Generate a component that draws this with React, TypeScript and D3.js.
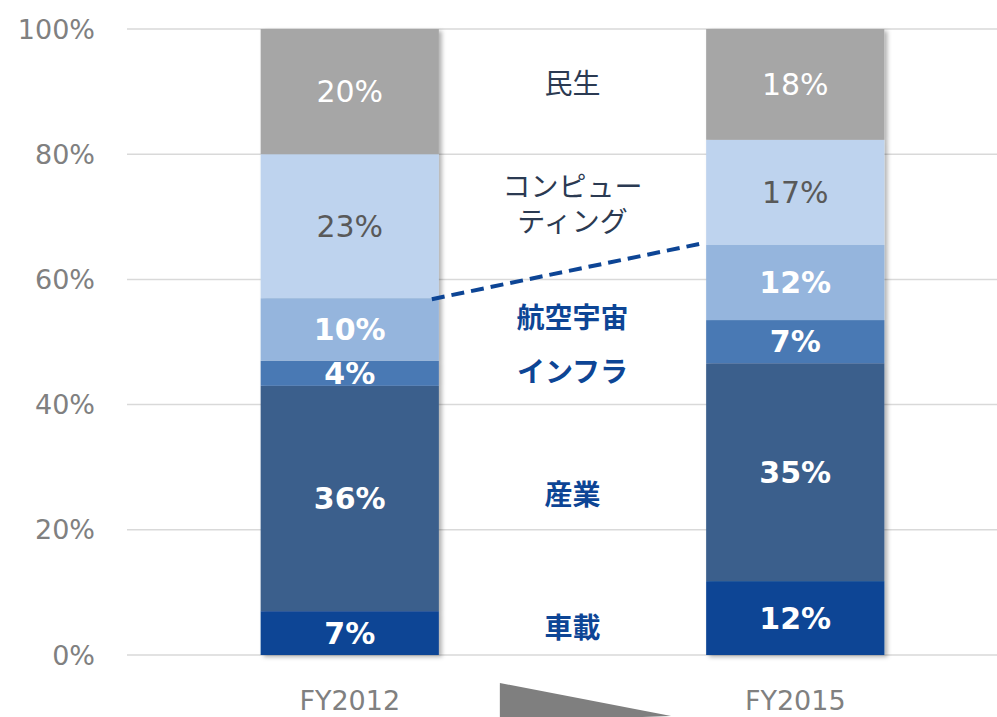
import React from 'react';
import * as d3 from 'd3';

const years = ['FY2012', 'FY2015'];
const segments = ['車載', '産業', 'インフラ', '航空宇宙', 'コンピューティング', '民生'];
const fy2012 = [7, 36, 4, 10, 23, 20];
const fy2015 = [11.8, 34.8, 6.9, 12.0, 16.8, 17.7];
const yTicks = [0, 20, 40, 60, 80, 100];

// middle annotation labels: text lines and their position in percent
const midLabels = [
    { lines: ['民生'], at: 91, bold: false },
    { lines: ['コンピュー', 'ティング'], at: 71.8, bold: false },
    { lines: ['航空宇宙'], at: 53.7, bold: true },
    { lines: ['インフラ'], at: 45, bold: true },
    { lines: ['産業'], at: 25.4, bold: true },
    { lines: ['車載'], at: 4.2, bold: true },
];

const colors = ['#0d4595', '#3b5e8c', '#4a79b4', '#95b5dd', '#bed3ee', '#a6a6a6'];
const labelColors = ['#fff', '#fff', '#fff', '#fff', '#595959', '#fff'];
const labelBold = [true, true, true, true, false, false];

const W = 997;
const H = 717;
const margin = { top: 29, left: 127, bottom: 62 };
const plotRight = 1018;

const App = () => {
    const x = d3.scaleBand().domain(years).range([margin.left, plotRight]).paddingInner(0.6).paddingOuter(0.3);
    const y = d3.scaleLinear().domain([0, 100]).range([H - margin.bottom, margin.top]);

    // stack per year across segments
    const stackYear = (vals: number[]) => {
        let acc = 0;
        return vals.map((v) => {
            const s = [acc, acc + v];
            acc += v;
            return s;
        });
    };
    const series = [stackYear(fy2012), stackYear(fy2015)];

    const midX = (x('FY2012')! + x.bandwidth() + x('FY2015')!) / 2;
    const jp = '"Noto Sans CJK JP", sans-serif';
    const latin = '"DejaVu Sans", Verdana, sans-serif';

    const lineStart = [x('FY2012')! + x.bandwidth() - 7, y(series[0][3][1]) + 1];
    const lineEnd = [x('FY2015')! - 7, y(series[1][3][1]) - 1];

    const wedgeL = x('FY2012')! + x.bandwidth() + 61;
    const wedgeR = x('FY2015')! - 35;

    return (
        <svg width={W} height={H} style={{ position: 'absolute', left: 0, top: 0 }}>
            <defs>
                <filter id="shadow" x="-10%" y="-10%" width="130%" height="130%">
                    <feDropShadow dx="3" dy="2" stdDeviation="2" floodColor="#000" floodOpacity="0.3" />
                </filter>
            </defs>
            <rect width={W} height={H} fill="#fff" />
            {yTicks.map((t) => (
                <g key={t}>
                    <line x1={margin.left} x2={plotRight} y1={y(t)} y2={y(t)} stroke="#d9d9d9" strokeWidth={1.5} />
                    <text x={95} y={y(t)} textAnchor="end" dominantBaseline="central" fontFamily={latin} fontSize={27} fill="#808080">
                        {t}%
                    </text>
                </g>
            ))}
            {years.map((yr, yi) => (
                <g key={yr} filter="url(#shadow)">
                    {series[yi].map((s, i) => (
                        <rect key={i} x={x(yr)} width={x.bandwidth()} y={y(s[1])} height={y(s[0]) - y(s[1])} fill={colors[i]} />
                    ))}
                </g>
            ))}
            {years.map((yr, yi) => (
                <g key={yr + 'l'}>
                    {series[yi].map((s, i) => (
                        <text
                            key={i}
                            x={x(yr)! + x.bandwidth() / 2}
                            y={y((s[0] + s[1]) / 2)}
                            textAnchor="middle"
                            dominantBaseline="central"
                            fontFamily={latin}
                            fontSize={30}
                            fontWeight={labelBold[i] ? 'bold' : 'normal'}
                            fill={labelColors[i]}
                        >
                            {Math.round(s[1] - s[0])}%
                        </text>
                    ))}
                    <text x={x(yr)! + x.bandwidth() / 2} y={700} textAnchor="middle" dominantBaseline="central" fontFamily={latin} fontSize={27} fill="#808080">
                        {yr}
                    </text>
                </g>
            ))}
            <line x1={lineStart[0]} y1={lineStart[1]} x2={lineEnd[0]} y2={lineEnd[1]} stroke="#0d4595" strokeWidth={4} strokeDasharray="13 7" />
            {midLabels.map((m) =>
                m.lines.map((l, i) => (
                    <text
                        key={l}
                        x={midX}
                        y={y(m.at) + 9 + (i - (m.lines.length - 1) / 2) * 35}
                        textAnchor="middle"
                        fontFamily={jp}
                        fontSize={28}
                        fontWeight={m.bold ? 'bold' : 'normal'}
                        fill={m.bold ? '#0d4595' : '#2b3a52'}
                    >
                        {l}
                    </text>
                ))
            )}
            <polygon points={`${wedgeL},683 ${wedgeR},716 ${wedgeL},722`} fill="#7f7f7f" />
        </svg>
    );
};

export default App;
